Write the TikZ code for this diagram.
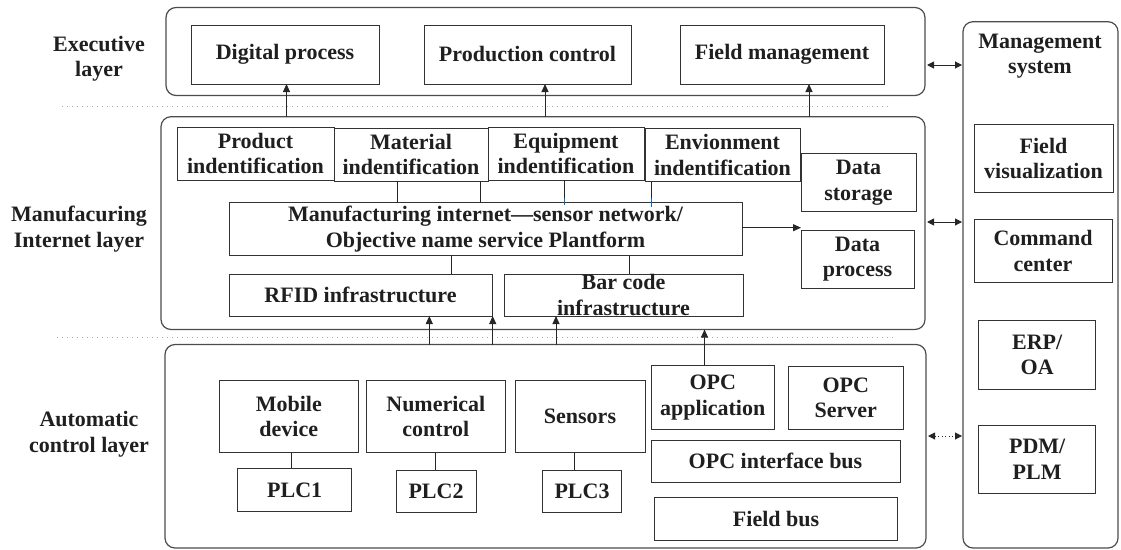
\documentclass[tikz,border=0pt]{standalone}
\usepackage{fontspec}
\setmainfont{Liberation Serif}
\usetikzlibrary{arrows.meta,fit}
\newcommand\tbox[4]{\node[box, fit={(#2) (#3)}] (#1) {};\node[txt] (#1-t) at (#1.center) {#4};}
\begin{document}
\begin{tikzpicture}[x=1pt,y=-1pt,
  outer/.style={draw=black!70, line width=1.2pt, rounded corners=10pt, inner sep=0pt, outer sep=0pt},
  box/.style={draw=black!80, line width=1pt, inner sep=0pt, outer sep=0pt},
  txt/.style={font=\fontsize{22}{25.5}\selectfont\bfseries, text=black!88, align=center, inner sep=0pt},
  conn/.style={draw=black!85, line width=1pt},
  arr/.style={conn, -{Triangle[length=8pt,width=7pt]}},
  darr/.style={conn, {Triangle[length=7pt,width=7pt]}-{Triangle[length=7pt,width=7pt]}, shorten <=2pt, shorten >=1pt},
  dotarr/.style={draw=black!85, line width=1pt, dash pattern=on 1pt off 2.5pt, {Triangle[length=7pt,width=7pt]}-{Triangle[length=7pt,width=7pt]}, shorten <=2pt, shorten >=1pt},
  sep/.style={draw=black!35, line width=1pt, dash pattern=on 1pt off 4pt},
  tick/.style={draw=blue!45!cyan!80!black, line width=1pt}
]
\useasboundingbox (0,0) rectangle (1121,549);

% layer containers
\node[outer, fit={(166,7.5) (925,95.5)}] (exec) {};
\node[outer, fit={(161,116.7) (925,329.5)}] (mfg) {};
\node[outer, fit={(165,344.5) (926,548)}] (auto) {};
\node[outer, fit={(963,21.7) (1118,548)}] (mgmt) {};

% layer labels
\node[txt] (lexec) at (99,58.5) {Executive\\layer};
\node[txt] (lmfg) at (79,229) {Manufacuring\\Internet layer};
\node[txt] (lauto) at (89,434) {Automatic\\control layer};
\node[txt] (lmgmt) at (1040,56) {Management\\system};

% separators
\coordinate (s1a) at (62,106.7);
\coordinate (s1b) at (892,106.7);
\coordinate (s2a) at (57,337.5);
\coordinate (s2b) at (894,337.5);
\draw[sep] (s1a) -- (s1b);
\draw[sep] (s2a) -- (s2b);

% executive layer
\tbox{dp}{191,25}{379,84}{Digital process}
\tbox{pc}{424,25}{631,84}{Production control}
\tbox{fm}{680,25}{884,84}{Field management}

% manufacturing internet layer
\tbox{pi}{177,127}{334,180}{Product\\indentification}
\tbox{mi}{334,128}{488,181}{Material\\indentification}
\tbox{ei}{488,127}{644,180}{Equipment\\indentification}
\tbox{en}{645,128.5}{800,181.5}{Envionment\\indentification}
\tbox{ds}{801,153.3}{916,211.7}{Data\\storage}
\tbox{plat}{229,202.7}{742,255}{Manufacturing internet---sensor network/\\Objective name service Plantform}
\tbox{dpr}{801,230}{914,288.3}{Data\\process}
\tbox{rfid}{229,274}{492,316}{RFID infrastructure}
\tbox{bar}{504,274}{743,316}{Bar code\\infrastructure}

% automatic control layer
\tbox{md}{219.6,380.7}{358,452.7}{Mobile\\device}
\tbox{nc}{366.7,380.7}{505,452.7}{Numerical\\control}
\tbox{sen}{515,380.7}{645,452.7}{Sensors}
\tbox{plca}{237.5,468.3}{351.8,511.7}{PLC1}
\tbox{plcb}{396,470}{476,512.7}{PLC2}
\tbox{plcc}{542.7,470}{621.4,512.7}{PLC3}
\tbox{opca}{651.5,365.5}{774,429.3}{OPC\\application}
\tbox{opcs}{788.6,366}{903,429.3}{OPC\\Server}
\tbox{opcb}{651,440}{900,482.3}{OPC interface bus}
\tbox{fb}{654.6,497.7}{897.5,540}{Field bus}

% management system
\tbox{fv}{974,124}{1113,192.7}{Field\\visualization}
\tbox{cc}{974,219.3}{1112,282.7}{Command\\center}
\tbox{erp}{978.6,320}{1095.7,389.3}{ERP/\\OA}
\tbox{pdm}{978.6,425}{1095.7,493.3}{PDM/\\PLM}

% arrows mfg -> exec
\coordinate (xa) at (286.5,0);
\coordinate (xb) at (545,0);
\coordinate (xc) at (809,0);
\draw[arr] (xa |- mfg.north) -- (xa |- dp.south);
\draw[arr] (xb |- mfg.north) -- (xb |- pc.south);
\draw[arr] (xc |- mfg.north) -- (xc |- fm.south);

% identification -> platform
\coordinate (xm1) at (397.3,0);
\coordinate (xm2) at (480.7,0);
\coordinate (xe1) at (564,0);
\coordinate (xe2) at (651.7,0);
\coordinate (yt) at (0,198);
\draw[conn] (xm1 |- mi.south) -- (xm1 |- plat.north);
\draw[conn] (xm2 |- mi.south) -- (xm2 |- plat.north);
\draw[conn] (xe1 |- ei.south) -- (xe1 |- yt);
\draw[tick] (xe1 |- yt) -- ++(0,7);
\draw[conn] (xe2 |- en.south) -- (xe2 |- yt);
\draw[tick] (xe2 |- yt) -- ++(0,9);

% platform -> infrastructure, data process
\coordinate (xr) at (451,0);
\coordinate (xbc) at (629,0);
\draw[conn] (xr |- plat.south) -- (xr |- rfid.north);
\draw[conn] (xbc |- plat.south) -- (xbc |- bar.north);
\coordinate (yp) at (0,227.7);
\draw[arr] (plat.east |- yp) -- (dpr.west |- yp);

% automatic -> manufacturing
\coordinate (xu1) at (429.3,0);
\coordinate (xu2) at (492.7,0);
\coordinate (xu3) at (556,0);
\coordinate (xu4) at (704.5,0);
\draw[arr] (xu1 |- auto.north) -- (xu1 |- rfid.south);
\draw[arr] (xu2 |- auto.north) -- (xu2 |- rfid.south);
\draw[arr] (xu3 |- auto.north) -- (xu3 |- bar.south);
\draw[arr] (xu4 |- opca.north) -- (xu4 |- mfg.south);

% devices -> PLCs
\coordinate (xp1) at (291.8,0);
\coordinate (xp2) at (435,0);
\coordinate (xp3) at (574.5,0);
\draw[conn] (xp1 |- md.south) -- (xp1 |- plca.north);
\draw[conn] (xp2 |- nc.south) -- (xp2 |- plcb.north);
\draw[conn] (xp3 |- sen.south) -- (xp3 |- plcc.north);

% layers <-> management system
\coordinate (yd1) at (0,65);
\coordinate (yd2) at (0,222);
\coordinate (yd3) at (0,436);
\draw[darr] (exec.east |- yd1) -- (mgmt.west |- yd1);
\draw[darr] (mfg.east |- yd2) -- (mgmt.west |- yd2);
\draw[dotarr] (auto.east |- yd3) -- (mgmt.west |- yd3);
\end{tikzpicture}
\end{document}
